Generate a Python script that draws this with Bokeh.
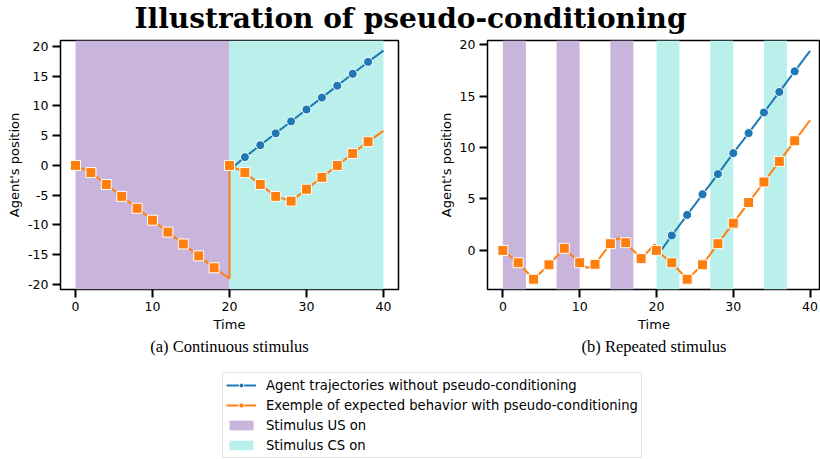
from bokeh.plotting import figure
from bokeh.models import Range1d, FixedTicker, Legend, LegendItem, BoxAnnotation
from bokeh.layouts import column, row
from bokeh.embed import file_html
from bokeh.resources import INLINE
from bokeh.core.properties import value

NAN = float("nan")

# ---------------- texts ----------------
TITLE = "Illustration of pseudo-conditioning"
CAPTION_A = "(a) Continuous stimulus"
CAPTION_B = "(b) Repeated stimulus"
X_LABEL = "Time"
Y_LABEL = "Agent's position"
LEGEND_LABELS = [
    "Agent trajectories without pseudo-conditioning",
    "Exemple of expected behavior with pseudo-conditioning",
    "Stimulus US on",
    "Stimulus CS on",
]

# ---------------- ticks ----------------
X_TICKS = [0, 10, 20, 30, 40]
Y_TICKS_A = [-20, -15, -10, -5, 0, 5, 10, 15, 20]
Y_TICKS_B = [0, 5, 10, 15, 20]

# ---------------- panel (a): continuous stimulus ----------------
A_US_START = [0]
A_US_END = [20]
A_CS_START = [20]
A_CS_END = [40]

A_BLUE_LINE_T = [20.7, 22, 24, 26, 28, 30, 32, 34, 36, 38, 40]
A_BLUE_LINE_Y = [0.0, 1.4, 3.4, 5.4, 7.4, 9.4, 11.4, 13.4, 15.4, 17.4, 19.3]
A_BLUE_T = [22, 24, 26, 28, 30, 32, 34, 36, 38]
A_BLUE_Y = [1.4, 3.4, 5.4, 7.4, 9.4, 11.4, 13.4, 15.4, 17.4]

A_ORANGE_LINE_T = [0, 2, 4, 6, 8, 10, 12, 14, 16, 18, 20, 20, 22, 24, 26, 28, 30, 32, 34, 36, 38, 40]
A_ORANGE_LINE_Y = [0.0, -1.2, -3.2, -5.2, -7.2, -9.2, -11.2, -13.2, -15.2, -17.2, -19.0,
                   0.0, -1.2, -3.2, -5.2, -6.0, -4.0, -2.0, 0.0, 2.0, 4.0, 5.8]
A_ORANGE_T = [0, 2, 4, 6, 8, 10, 12, 14, 16, 18, 20, 22, 24, 26, 28, 30, 32, 34, 36, 38]
A_ORANGE_Y = [0.0, -1.2, -3.2, -5.2, -7.2, -9.2, -11.2, -13.2, -15.2, -17.2,
              0.0, -1.2, -3.2, -5.2, -6.0, -4.0, -2.0, 0.0, 2.0, 4.0]

# ---------------- panel (b): repeated stimulus ----------------
B_US_START = [0, 7, 14]
B_US_END = [3, 10, 17]
B_CS_START = [20, 27, 34]
B_CS_END = [23, 30, 37]

B_BLUE_LINE_T = [20.7, 22, 24, 26, 28, 30, 32, 34, 36, 38, 40]
B_BLUE_LINE_Y = [0.1, 1.45, 3.45, 5.45, 7.42, 9.45, 11.4, 13.4, 15.4, 17.4, 19.4]
B_BLUE_T = [22, 24, 26, 28, 30, 32, 34, 36, 38]
B_BLUE_Y = [1.45, 3.45, 5.45, 7.42, 9.45, 11.4, 13.4, 15.4, 17.4]

B_ORANGE_LINE_T = [0, 2, 4, 6, 8, 10, 11, 12, 14, 15, 16, 18, 19.8, 20,
                   22, 24, 26, 28, 30, 32, 34, 36, 38, 40]
B_ORANGE_LINE_Y = [0.0, -1.2, -2.8, -1.4, 0.2, -1.2, -1.7, -1.35, 0.65, 1.2, 0.75, -0.8, 0.6, 0.0,
                   -1.2, -2.8, -1.4, 0.65, 2.65, 4.65, 6.65, 8.65, 10.65, 12.65]
B_ORANGE_T = [0, 2, 4, 6, 8, 10, 12, 14, 16, 18, 20, 22, 24, 26, 28, 30, 32, 34, 36, 38]
B_ORANGE_Y = [0.0, -1.2, -2.8, -1.4, 0.2, -1.2, -1.35, 0.65, 0.75, -0.8,
              0.0, -1.2, -2.8, -1.4, 0.65, 2.65, 4.65, 6.65, 8.65, 10.65]

# ---------------- style ----------------
BLUE = "#1f77b4"
ORANGE = "#ff7f0e"
US_COLOR = "#c9b4dc"
CS_COLOR = "#b9f0eb"
SANS = "DejaVu Sans"


def make_panel(width, min_left, min_right, xr, yr, yticks, caption,
               us, cs, blue_line, blue_pts, orange_line, orange_pts):
    p = figure(width=width, height=324, x_range=Range1d(*xr), y_range=Range1d(*yr),
               output_backend="svg", toolbar_location=None,
               min_border_left=min_left, min_border_right=min_right,
               min_border_top=4, min_border_bottom=71,
               title=caption, title_location="below")
    p.title.align = "center"
    p.title.text_font = "Liberation Serif"
    p.title.text_font_style = "normal"
    p.title.text_font_size = "16.5px"
    p.title.text_color = "black"
    p.title.standoff = 1

    p.xgrid.visible = False
    p.ygrid.visible = False
    p.outline_line_color = "black"
    p.outline_line_width = 1.5
    p.background_fill_color = "white"
    p.border_fill_color = "white"

    for (starts, ends), col in ((us, US_COLOR), (cs, CS_COLOR)):
        for s, e in zip(starts, ends):
            p.add_layout(BoxAnnotation(left=s, right=e, fill_color=col, fill_alpha=1.0,
                                       line_color=None, level="underlay"))

    p.line(blue_line[0], blue_line[1], color=BLUE, line_width=2)
    p.scatter(blue_pts[0], blue_pts[1], marker="circle", size=9,
              fill_color=BLUE, line_color="white", line_width=1)
    p.line(orange_line[0], orange_line[1], color=ORANGE, line_width=2)
    p.scatter(orange_pts[0], orange_pts[1], marker="square", size=10,
              fill_color=ORANGE, line_color="white", line_width=1)

    p.xaxis.ticker = FixedTicker(ticks=X_TICKS)
    p.yaxis.ticker = FixedTicker(ticks=yticks)
    p.xaxis.major_label_overrides = {t: str(t) for t in X_TICKS}
    p.yaxis.major_label_overrides = {t: str(t) for t in yticks}
    p.xaxis.axis_label = X_LABEL
    p.yaxis.axis_label = Y_LABEL
    for ax in (p.xaxis, p.yaxis):
        ax.axis_line_color = None
        ax.major_tick_line_color = "black"
        ax.major_tick_line_width = 2
        ax.major_tick_out = 8
        ax.major_tick_in = 0
        ax.minor_tick_line_color = None
        ax.major_label_text_font = SANS
        ax.major_label_text_font_size = "12.5px"
        ax.major_label_text_color = "black"
        ax.major_label_standoff = 4
        ax.axis_label_text_font = SANS
        ax.axis_label_text_font_size = "13px"
        ax.axis_label_text_font_style = "normal"
        ax.axis_label_text_color = "black"
        ax.axis_label_standoff = 3
    return p


pa = make_panel(435, 60, 37, (-1.95, 41.95), (-20.85, 21.0), Y_TICKS_A, CAPTION_A,
                (A_US_START, A_US_END), (A_CS_START, A_CS_END),
                (A_BLUE_LINE_T, A_BLUE_LINE_Y), (A_BLUE_T, A_BLUE_Y),
                (A_ORANGE_LINE_T, A_ORANGE_LINE_Y), (A_ORANGE_T, A_ORANGE_Y))
pb = make_panel(385, 52, 0, (-2.0, 41.36), (-3.8, 20.4), Y_TICKS_B, CAPTION_B,
                (B_US_START, B_US_END), (B_CS_START, B_CS_END),
                (B_BLUE_LINE_T, B_BLUE_LINE_Y), (B_BLUE_T, B_BLUE_Y),
                (B_ORANGE_LINE_T, B_ORANGE_LINE_Y), (B_ORANGE_T, B_ORANGE_Y))

# ---------------- title ----------------
pt = figure(width=820, height=36, x_range=Range1d(0, 820), y_range=Range1d(0, 36),
            output_backend="svg", toolbar_location=None,
            x_axis_type=None, y_axis_type=None, min_border=0)
pt.outline_line_color = None
pt.text(x=[410], y=[18], text=[TITLE], text_font=value("DejaVu Serif"),
        text_font_style="bold", text_font_size="28px", text_align="center",
        text_baseline="middle", text_color="black")

# ---------------- legend ----------------
pl = figure(width=820, height=99, x_range=Range1d(0, 1), y_range=Range1d(0, 1),
            output_backend="svg", toolbar_location=None,
            x_axis_type=None, y_axis_type=None, min_border=0)
pl.outline_line_color = None
lb = pl.line(x=[NAN], y=[NAN], color=BLUE, line_width=2)
sb = pl.scatter(x=[NAN], y=[NAN], marker="circle", size=8, fill_color=BLUE,
                line_color="white", line_width=1)
lo = pl.line(x=[NAN], y=[NAN], color=ORANGE, line_width=2)
so = pl.scatter(x=[NAN], y=[NAN], marker="square", size=8, fill_color=ORANGE,
                line_color="white", line_width=1)
qu = pl.quad(left=[NAN], right=[NAN], bottom=[NAN], top=[NAN], fill_color=US_COLOR, line_color=None)
qc = pl.quad(left=[NAN], right=[NAN], bottom=[NAN], top=[NAN], fill_color=CS_COLOR, line_color=None)

legend = Legend(items=[
    LegendItem(label=LEGEND_LABELS[0], renderers=[lb, sb]),
    LegendItem(label=LEGEND_LABELS[1], renderers=[lo, so]),
    LegendItem(label=LEGEND_LABELS[2], renderers=[qu]),
    LegendItem(label=LEGEND_LABELS[3], renderers=[qc]),
], location=(222, 1), orientation="vertical",
    label_text_font=SANS, label_text_font_size="13.2px", label_text_color="black",
    glyph_width=30, glyph_height=12, label_height=18, spacing=2, padding=3,
    label_standoff=10, margin=0,
    border_line_color="#cccccc", border_line_width=1,
    background_fill_color="white", background_fill_alpha=1.0)
pl.add_layout(legend, "center")

layout = column(pt, row(pa, pb), pl)

open("out.html", "w").write(file_html(layout, INLINE))
